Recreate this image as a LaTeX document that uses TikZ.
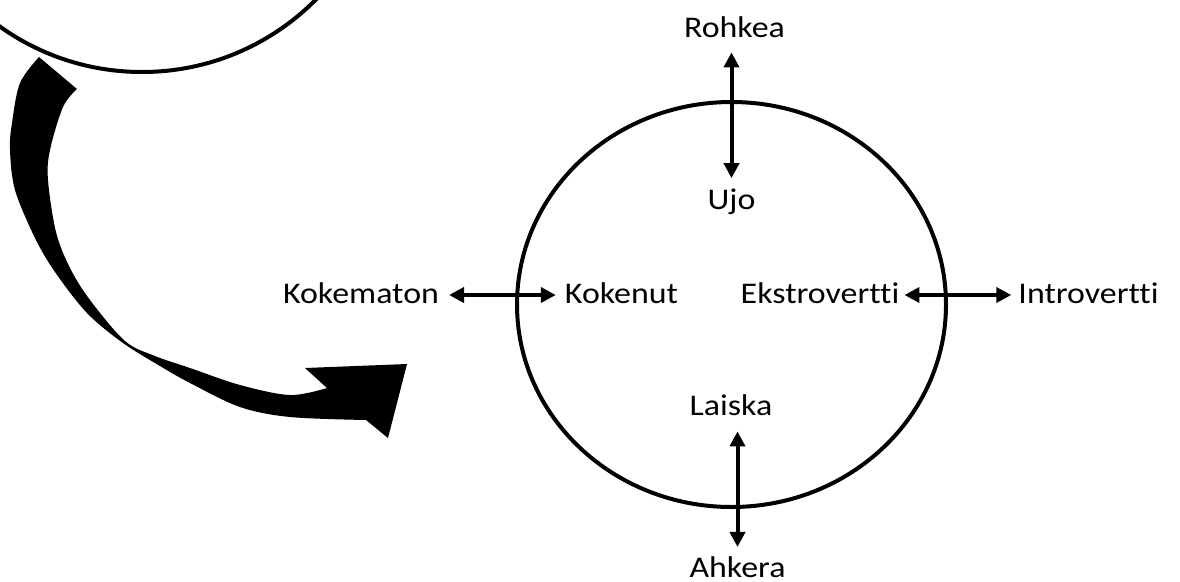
\documentclass[tikz,border=0pt]{standalone}
\usepackage{fontspec}
\newfontfamily\lblfont{Carlito}[FakeStretch=1.13,Ligatures=NoCommon]
\usetikzlibrary{arrows.meta}
\begin{document}
\begin{tikzpicture}[x=1pt,y=-1pt,
  lbl/.style={inner sep=0pt,anchor=base,font=\lblfont\fontsize{30}{36}\selectfont},
  ring/.style={line width=4pt},
  twoway/.style={line width=4pt,{Triangle[length=15pt,width=15pt]}-{Triangle[length=15pt,width=15pt]}}]
\useasboundingbox (0,0) rectangle (1180,581);

% previous circle, cut at the top edge
\begin{scope}
  \clip (0,0) rectangle (1180,581);
  \draw[ring] (142,-173) circle [radius=245];
\end{scope}

% curved block arrow leading to the main circle
\fill plot[smooth,tension=0.55] coordinates {(39,57) (20,83) (12,123) (10,150) (15,190) (35,238) (55,272) (87,313) (123,343) (160,366) (190,383) (240,407) (290,417) (366,420)}
  -- (388,438) -- (407,364) -- (305,368)
  -- plot[smooth,tension=0.55] coordinates {(327,388) (290,395) (240,385) (190,368) (155,356) (125,341) (90,300) (70,268) (56,232) (48,180) (50,150) (63,107) (77,89)}
  -- cycle;

% main circle
\draw[ring] (731.5,304.5) ellipse [x radius=214.5, y radius=202.5];

% labels
\node[lbl] (rohkea) at (734.5,37) {Rohkea};
\node[lbl] (ujo) at (731.5,209) {Ujo};
\node[lbl] (kokematon) at (361,303) {Kokematon};
\node[lbl] (kokenut) at (621.5,303) {Kokenut};
\node[lbl] (ekstro) at (820,303) {Ekstrovertti};
\node[lbl] (intro) at (1088.5,303) {Introvertti};
\node[lbl] (laiska) at (731,415) {Laiska};
\node[lbl] (ahkera) at (737.5,577) {Ahkera};

% two-way arrows between the opposite traits
\draw[twoway,shorten <=15pt,shorten >=10pt] (rohkea.south -| ujo) -- (ujo.north);
\draw[twoway,shorten <=10pt,shorten >=9pt] ([yshift=8pt]kokematon.base east) -- ([yshift=8pt]kokenut.base west);
\draw[twoway,shorten <=5pt,shorten >=7pt] ([yshift=8pt]ekstro.base east) -- ([yshift=8pt]intro.base west);
\draw[twoway,shorten <=16pt,shorten >=9pt] (laiska.south -| ahkera) -- (ahkera.north);
\end{tikzpicture}
\end{document}
